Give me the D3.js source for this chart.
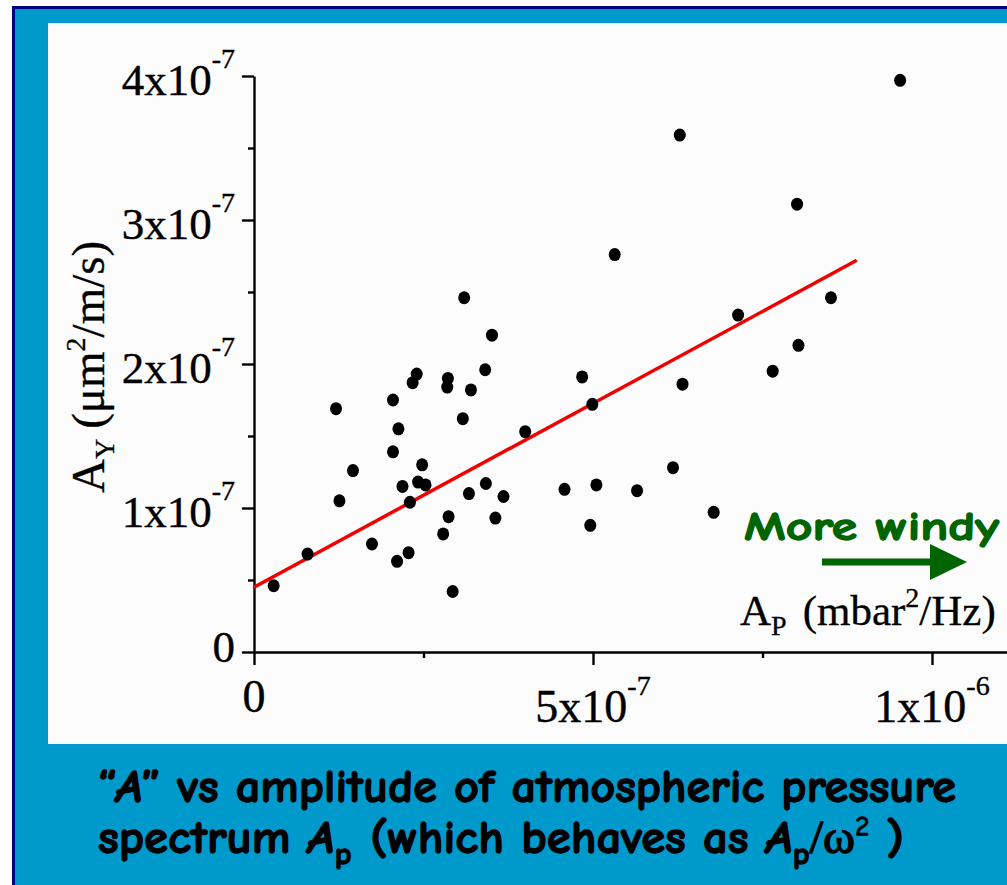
<!DOCTYPE html>
<html>
<head>
<meta charset="utf-8">
<script src="https://cdn.jsdelivr.net/npm/d3@7"></script>
<style>
  body { margin: 0; background: #fff; }
  svg { display: block; }
  .serif { font-family: "Liberation Serif", "Times New Roman", serif; fill: #000; }
  .comic { font-family: "Comic Sans MS", "Comic Neue", "DejaVu Sans", sans-serif; font-weight: bold; }
</style>
</head>
<body>
<svg id="chart" width="1007" height="885"></svg>
<script>
// ---- data (A_P in mbar^2/Hz, A_Y in um^2/m/s)
var apValues = [0.29e-7, 0.79e-7, 1.21e-7, 1.26e-7, 1.46e-7, 1.74e-7, 2.05e-7, 2.05e-7, 2.13e-7, 2.11e-7,
                2.19e-7, 2.28e-7, 2.30e-7, 2.34e-7, 2.40e-7, 2.42e-7, 2.48e-7, 2.53e-7, 2.79e-7, 2.85e-7,
                2.86e-7, 2.87e-7, 2.93e-7, 3.10e-7, 3.08e-7, 3.17e-7, 3.20e-7, 3.41e-7, 3.42e-7, 3.51e-7,
                3.56e-7, 3.68e-7, 4.00e-7, 4.58e-7, 4.84e-7, 4.96e-7, 4.99e-7, 5.05e-7, 5.32e-7, 5.65e-7,
                6.18e-7, 6.28e-7, 6.32e-7, 6.78e-7, 7.14e-7, 7.65e-7, 8.03e-7, 8.01e-7, 8.51e-7, 9.53e-7];
var ayValues = [0.46e-7, 0.68e-7, 1.69e-7, 1.05e-7, 1.26e-7, 0.75e-7, 1.75e-7, 1.39e-7, 1.55e-7, 0.63e-7,
                1.15e-7, 0.69e-7, 1.04e-7, 1.87e-7, 1.93e-7, 1.18e-7, 1.30e-7, 1.16e-7, 0.82e-7, 1.84e-7,
                1.90e-7, 0.94e-7, 0.42e-7, 2.46e-7, 1.62e-7, 1.10e-7, 1.82e-7, 1.96e-7, 1.17e-7, 2.20e-7,
                0.93e-7, 1.08e-7, 1.53e-7, 1.13e-7, 1.91e-7, 0.88e-7, 1.72e-7, 1.16e-7, 2.76e-7, 1.12e-7,
                1.28e-7, 3.59e-7, 1.86e-7, 0.97e-7, 2.34e-7, 1.95e-7, 2.13e-7, 3.11e-7, 2.46e-7, 3.97e-7];

// linear fit drawn in red
var fitAp = [0, 8.89e-7];
var fitAy = [0.45e-7, 2.72e-7];

var xMajor = [0, 5e-7, 1e-6];
var xMinor = [2.5e-7, 7.5e-7];
var xTickLabels = [["0", ""], ["5x10", "-7"], ["1x10", "-6"]];
var yMajor = [0, 1e-7, 2e-7, 3e-7, 4e-7];
var yMinor = [0.5e-7, 1.5e-7, 2.5e-7, 3.5e-7];
var yTickLabels = [["0", ""], ["1x10", "-7"], ["2x10", "-7"], ["3x10", "-7"], ["4x10", "-7"]];

var svg = d3.select("#chart");

// ---- slide frame
svg.append("rect").attr("x", 12).attr("y", 6).attr("width", 1100).attr("height", 1000).attr("fill", "#000080");
svg.append("rect").attr("x", 15).attr("y", 9).attr("width", 1100).attr("height", 1000).attr("fill", "#0099cc");
svg.append("rect").attr("x", 48).attr("y", 23).attr("width", 1000).attr("height", 721).attr("fill", "#fbfcfb");

// ---- scales
var x = d3.scaleLinear().domain([0, 1e-6]).range([254, 932]);
var y = d3.scaleLinear().domain([0, 4e-7]).range([652, 76]);
var xLong = x.copy().domain([0, x.invert(1012)]).range([254, 1012]); // axis line runs off the slide

// x axis
svg.append("g").attr("transform", "translate(0,652)")
    .call(d3.axisBottom(xLong).tickValues(xMajor).tickSize(13).tickSizeOuter(0).tickFormat(""));
svg.append("g").attr("transform", "translate(0,652)")
    .call(d3.axisBottom(x).tickValues(xMinor).tickSize(6).tickFormat(""))
    .select(".domain").remove();

// y axis
svg.append("g").attr("transform", "translate(254,0)")
    .call(d3.axisLeft(y).tickValues(yMajor).tickSize(12).tickSizeOuter(0).tickFormat(""));
svg.append("g").attr("transform", "translate(254,0)")
    .call(d3.axisLeft(y).tickValues(yMinor).tickSize(6).tickFormat(""))
    .select(".domain").remove();

svg.selectAll(".domain, .tick line").attr("stroke", "#000").attr("stroke-width", 2.4);

// tick labels with superscripts
xMajor.forEach(function(v, i) {
    var t = svg.append("text").attr("class", "serif")
        .attr("x", x(v)).attr("y", xTickLabels[i][1] ? 722 : 712)
        .attr("text-anchor", "middle").style("font-size", "46px")
        .attr("stroke", "#000").attr("stroke-width", 0.4);
    t.append("tspan").text(xTickLabels[i][0]);
    if (xTickLabels[i][1]) t.append("tspan").attr("dy", -27).style("font-size", "28px").text(xTickLabels[i][1]);
});
yMajor.forEach(function(v, i) {
    var t = svg.append("text").attr("class", "serif")
        .attr("x", 235).attr("y", y(v) + (yTickLabels[i][1] ? 19 : 10))
        .attr("text-anchor", "end").style("font-size", "45px")
        .attr("stroke", "#000").attr("stroke-width", 0.4);
    t.append("tspan").text(yTickLabels[i][0]);
    if (yTickLabels[i][1]) t.append("tspan").attr("dy", -27).style("font-size", "28px").text(yTickLabels[i][1]);
});

// axis titles
var xt = svg.append("text").attr("class", "serif").attr("x", 740).attr("y", 625)
    .style("font-size", "43px").attr("stroke", "#000").attr("stroke-width", 0.3);
xt.append("tspan").text("A");
xt.append("tspan").attr("dy", 10).style("font-size", "28px").text("P");
xt.append("tspan").attr("dy", -10).attr("dx", 16).text("(mbar");
xt.append("tspan").attr("dy", -18).style("font-size", "28px").text("2");
xt.append("tspan").attr("dy", 18).text("/Hz)");

var yt = svg.append("text").attr("class", "serif")
    .attr("transform", "translate(104,493) rotate(-90)").style("font-size", "47px")
    .attr("stroke", "#000").attr("stroke-width", 0.3);
yt.append("tspan").text("A");
yt.append("tspan").attr("dy", 10).style("font-size", "28px").text("Y");
yt.append("tspan").attr("dy", -10).attr("dx", 10).text("(\u03bcm");
yt.append("tspan").attr("dy", -19).style("font-size", "28px").text("2");
yt.append("tspan").attr("dy", 19).text("/m/s)");

// ---- fit line and points
var line = d3.line().x(function(d) { return x(d[0]); }).y(function(d) { return y(d[1]); });
svg.append("path").datum(d3.zip(fitAp, fitAy))
    .attr("d", line).attr("fill", "none").attr("stroke", "#f00000").attr("stroke-width", 3.5);

svg.selectAll("ellipse.pt")
    .data(d3.zip(apValues, ayValues))
    .enter()
    .append("ellipse").attr("class", "pt")
    .attr("cx", function(d) { return x(d[0]); })
    .attr("cy", function(d) { return y(d[1]); })
    .attr("rx", 6).attr("ry", 6.5)
    .attr("fill", "#000");

// ---- "More windy" note
svg.append("text").attr("class", "comic").attr("x", 744).attr("y", 540)
    .attr("fill", "#006400").attr("stroke", "#006400").attr("stroke-width", 1.3)
    .style("font-size", "40px")
    .attr("textLength", 255).attr("lengthAdjust", "spacingAndGlyphs")
    .text("More windy");
svg.append("line").attr("x1", 822).attr("y1", 562).attr("x2", 935).attr("y2", 562)
    .attr("stroke", "#006400").attr("stroke-width", 7);
svg.append("path").attr("d", "M930,544 L967,562 L930,580 Z").attr("fill", "#006400");

// ---- caption
var c1 = svg.append("text").attr("class", "comic").attr("x", 98).attr("y", 802)
    .style("font-size", "47px").attr("fill", "#000").attr("stroke", "#000").attr("stroke-width", 1.3)
    .attr("textLength", 858).attr("lengthAdjust", "spacingAndGlyphs");
c1.append("tspan").text("\u201c");
c1.append("tspan").style("font-style", "italic").text("A");
c1.append("tspan").text("\u201d vs amplitude of atmospheric pressure");

var c2 = svg.append("text").attr("class", "comic").attr("x", 98).attr("y", 853)
    .style("font-size", "47px").attr("fill", "#000").attr("stroke", "#000").attr("stroke-width", 1.3)
    .attr("textLength", 806).attr("lengthAdjust", "spacingAndGlyphs");
c2.append("tspan").text("spectrum ");
c2.append("tspan").style("font-style", "italic").text("A");
c2.append("tspan").attr("dy", 11).style("font-size", "31px").text("p");
c2.append("tspan").attr("dy", -11).attr("dx", 18).text("(which behaves as ");
c2.append("tspan").style("font-style", "italic").text("A");
c2.append("tspan").attr("dy", 11).style("font-size", "31px").text("p");
c2.append("tspan").attr("dy", -11).style("font-weight", "normal").attr("class", "serif").text("/\u03c9");
c2.append("tspan").attr("dy", -18).style("font-size", "26px").style("font-weight", "normal").text("2");
c2.append("tspan").attr("dy", 18).text(" )");
</script>
</body>
</html>
